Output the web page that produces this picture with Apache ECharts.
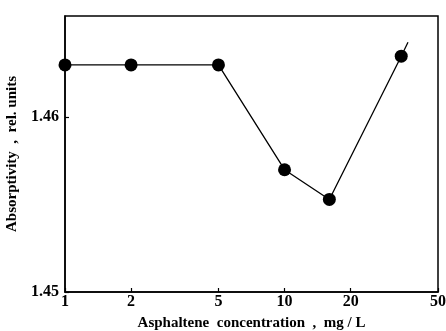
<!DOCTYPE html>
<html>
<head>
<meta charset="utf-8">
<script src="https://cdn.jsdelivr.net/npm/echarts@6/dist/echarts.min.js"></script>
<style>
  html, body { margin: 0; padding: 0; background: #fff; }
  #chart { width: 446px; height: 331px; }
</style>
</head>
<body>
<div id="chart"></div>
<script>
// measured points (concentration mg/L, absorptivity)
const conc = [1, 2, 5, 10, 16, 34];
const absorb = [1.4630, 1.4630, 1.4630, 1.4570, 1.4553, 1.4635];
// the drawn line runs a little past the last point
const tailConc = [36.5];
const tailAbsorb = [1.4643];

const xTicks = [1, 2, 5, 10, 20, 50];
const yTicks = [1.45, 1.46];

const font = 'Liberation Serif';
const chart = echarts.init(document.getElementById('chart'));

const linePts = conc.concat(tailConc).map((c, i) => [c, absorb.concat(tailAbsorb)[i]]);
const markPts = conc.map((c, i) => [c, absorb[i]]);

chart.setOption({
  animation: false,
  grid: {
    left: 65, right: 8, top: 16, bottom: 39,
    outerBoundsMode: 'none', containLabel: false,
    show: true, borderColor: '#000', borderWidth: 1.5
  },
  xAxis: [
    {
      type: 'log', logBase: 10, min: 1, max: 50,
      axisLine: { show: true, lineStyle: { color: '#000', width: 1.5 } },
      axisTick: { show: false },
      axisLabel: { show: false },
      splitLine: { show: false },
      minorTick: { show: false }
    },
    {
      type: 'value', position: 'bottom', min: 0, max: Math.log10(50),
      axisLine: { show: false },
      axisTick: {
        show: true, inside: true, length: 4,
        customValues: xTicks.map(Math.log10),
        lineStyle: { color: '#000', width: 1.2 }
      },
      axisLabel: {
        customValues: xTicks.map(Math.log10),
        formatter: v => String(Math.round(Math.pow(10, v))),
        color: '#000', fontFamily: font, fontWeight: 'bold', fontSize: 16, margin: 2
      },
      splitLine: { show: false },
      name: 'Asphaltene  concentration  ,  mg / L',
      nameLocation: 'middle', nameGap: 24,
      nameTextStyle: { color: '#000', fontFamily: font, fontWeight: 'bold', fontSize: 15 }
    }
  ],
  yAxis: {
    type: 'value', min: yTicks[0], max: 1.4658, interval: 0.01,
    axisLine: { show: true, lineStyle: { color: '#000', width: 1.5 } },
    axisTick: { show: true, inside: true, length: 4, lineStyle: { color: '#000', width: 1.2 } },
    axisLabel: {
      showMaxLabel: false,
      formatter: v => v.toFixed(2),
      color: '#000', fontFamily: font, fontWeight: 'bold', fontSize: 16, margin: 6
    },
    splitLine: { show: false },
    name: 'Absorptivity  ,  rel. units',
    nameLocation: 'middle', nameGap: 41,
    nameTextStyle: { color: '#000', fontFamily: font, fontWeight: 'bold', fontSize: 15 }
  },
  series: [
    {
      type: 'line', xAxisIndex: 0, data: linePts,
      showSymbol: false, symbol: 'none',
      lineStyle: { color: '#000', width: 1.3 }
    },
    {
      type: 'scatter', xAxisIndex: 0, data: markPts,
      symbol: 'circle', symbolSize: 13,
      itemStyle: { color: '#000', opacity: 1 }
    }
  ]
});
</script>
</body>
</html>
